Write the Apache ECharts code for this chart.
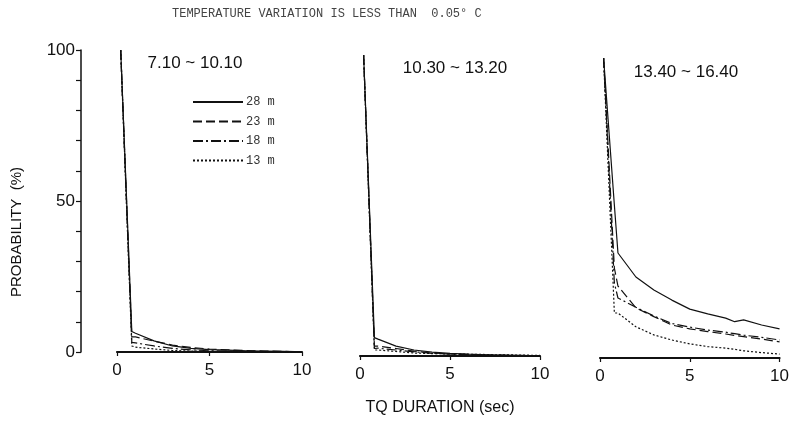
<!DOCTYPE html>
<html><head><meta charset="utf-8">
<script src="https://cdn.jsdelivr.net/npm/echarts@6/dist/echarts.min.js"></script>
<style>html,body{margin:0;padding:0;background:#fff}#c{width:792px;height:421px}</style>
</head><body><div id="c"></div>
<script>
// Shared duration axis (sec)
const duration = [0.2, 0.8, 1, 2, 3, 4, 5, 6, 7, 7.5, 8, 9, 10];
const depths = ['28 m', '23 m', '18 m', '13 m'];
const periods = ['7.10 ~ 10.10', '10.30 ~ 13.20', '13.40 ~ 16.40'];
const xTicks = [0, 5, 10];
const yTicks = [0, 50, 100];

// Panel 1: 7.10 ~ 10.10
const p1_28 = [100, 6.8, 6.2, 3.7, 2.0, 1.2, 0.8, 0.6, 0.4, 0.3, 0.3, 0.2, 0.0];
const p1_23 = [100, 5.0, 5.0, 3.6, 2.3, 1.5, 1.0, 0.7, 0.5, 0.4, 0.3, 0.2, 0.1];
const p1_18 = [100, 3.2, 3.0, 2.0, 1.2, 0.7, 0.4, 0.3, 0.2, 0.2, 0.1, 0.1, 0.0];
const p1_13 = [100, 2.0, 1.6, 1.0, 0.5, 0.3, 0.2, 0.1, 0.1, 0.0, 0.0, 0.0, 0.0];
// Panel 2: 10.30 ~ 13.20
const p2_28 = [100, 6.1, 5.6, 3.3, 2.0, 1.3, 0.9, 0.6, 0.4, 0.3, 0.3, 0.2, 0.0];
const p2_23 = [100, 3.3, 3.3, 2.5, 1.6, 1.0, 0.7, 0.5, 0.3, 0.3, 0.2, 0.1, 0.0];
const p2_18 = [100, 2.5, 2.6, 2.0, 1.4, 0.9, 0.6, 0.4, 0.3, 0.2, 0.2, 0.1, 0.0];
const p2_13 = [100, 2.0, 2.0, 1.5, 1.0, 0.8, 0.7, 0.6, 0.5, 0.4, 0.4, 0.3, 0.2];
// Panel 3: 13.40 ~ 16.40
const p3_28 = [100, 51, 35, 27, 22.7, 19.3, 16.3, 14.7, 13.3, 12.1, 12.7, 11.0, 9.7];
const p3_23 = [100, 30, 24, 16.7, 13.8, 11.0, 9.7, 8.8, 8.0, 7.5, 7.1, 6.3, 5.4];
const p3_18 = [100, 25, 20, 16.9, 14.0, 11.5, 10.3, 9.3, 8.6, 8.1, 7.6, 6.9, 6.0];
const p3_13 = [100, 15, 15, 10.4, 7.7, 6.0, 4.7, 3.8, 3.3, 2.9, 2.4, 1.8, 1.3];

const panels = [[p1_28, p1_23, p1_18, p1_13], [p2_28, p2_23, p2_18, p2_13], [p3_28, p3_23, p3_18, p3_13]];
const dashes = ['solid', [9, 4], [10, 3, 2, 3], [2, 2]];
const ink = '#111';
const grids = [
  {left: 117, top: 50, width: 185, height: 302},
  {left: 360, top: 55, width: 180, height: 301},
  {left: 600, top: 58, width: 183, height: 300}
];

const xAxis = grids.map((g, i) => ({
  type: 'value', gridIndex: i, min: 0, max: 10, interval: 5,
  axisLine: {show: true, onZero: false, lineStyle: {color: ink, width: 2.2}},
  axisTick: {show: true, length: 4, lineStyle: {color: ink, width: 1.2}},
  axisLabel: {color: ink, fontSize: 17, fontFamily: 'Liberation Sans', margin: 10,
    formatter: v => xTicks.includes(v) ? String(v) : ''},
  splitLine: {show: false}
}));
const yAxis = grids.map((g, i) => ({
  type: 'value', gridIndex: i, min: 0, max: 100, interval: 10,
  show: i === 0, offset: i === 0 ? 36 : 0,
  axisLine: {show: true, onZero: false, lineStyle: {color: ink, width: 1.5}},
  axisTick: {show: true, length: 5, lineStyle: {color: ink, width: 1.2}},
  axisLabel: {color: ink, fontSize: 17, fontFamily: 'Liberation Sans', margin: 6,
    formatter: v => yTicks.includes(v) ? String(v) : ''},
  splitLine: {show: false}
}));

const series = [];
panels.forEach((set, p) => {
  set.forEach((vals, k) => {
    series.push({
      type: 'line', name: depths[k], xAxisIndex: p, yAxisIndex: p,
      data: duration.map((d, j) => [d, vals[j]]),
      symbol: 'none', smooth: false,
      itemStyle: {color: ink},
      lineStyle: {color: ink, width: 1.2, type: dashes[k]},
      z: 3 + (3 - k)
    });
  });
});

const titlePos = [[195, 63], [455, 68], [686, 72]];
const graphic = [
  {type: 'text', x: 172, y: 14, style: {text: 'TEMPERATURE VARIATION IS LESS THAN  0.05° C',
    fill: '#444', font: '12px "Liberation Mono"', verticalAlign: 'middle'}},
  {type: 'text', x: 17, y: 232, rotation: Math.PI / 2, style: {text: 'PROBABILITY  (%)',
    fill: ink, font: '15px "Liberation Sans"', align: 'center', verticalAlign: 'middle'}},
  {type: 'text', x: 440, y: 408, style: {text: 'TQ DURATION (sec)',
    fill: ink, font: '16px "Liberation Sans"', align: 'center', verticalAlign: 'middle'}}
].concat(periods.map((t, i) => ({
  type: 'text', x: titlePos[i][0], y: titlePos[i][1],
  style: {text: t, fill: ink, font: '17px "Liberation Sans"', align: 'center', verticalAlign: 'middle'}
})));

const chart = echarts.init(document.getElementById('c'), null, {renderer: 'canvas'});
chart.setOption({
  backgroundColor: '#fff',
  animation: false,
  grid: grids,
  xAxis: xAxis,
  yAxis: yAxis,
  legend: {
    data: depths, orient: 'vertical', left: 192, top: 96, padding: 0,
    itemWidth: 50, itemHeight: 10, itemGap: 7.5,
    itemStyle: {opacity: 0},
    textStyle: {color: '#333', fontSize: 12, fontFamily: 'Liberation Mono', padding: [0, 0, 0, -2]},
    inactiveColor: '#111'
  },
  series: series,
  graphic: graphic
});
</script></body></html>
